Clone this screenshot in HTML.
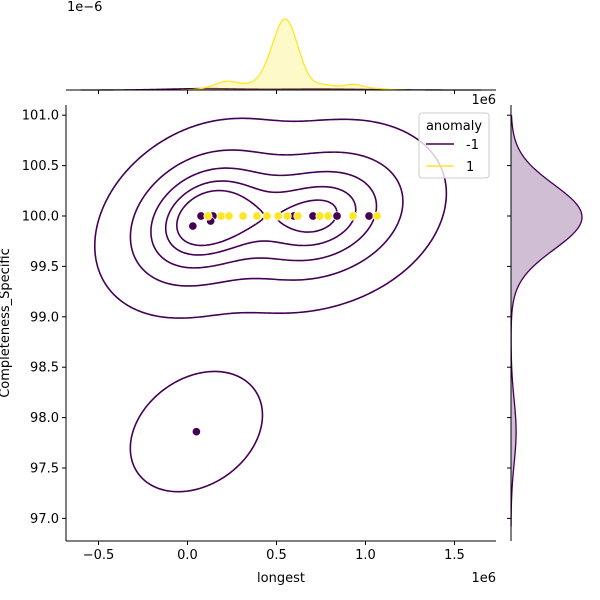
<!DOCTYPE html>
<html><head><meta charset="utf-8"><style>
body{margin:0;background:#fff}
svg{display:block;font-family:"DejaVu Sans","Liberation Sans",sans-serif}
</style></head><body>
<svg id="chart" width="600" height="600" viewBox="0 0 600 600">
<g id="contours"></g>
<g id="points"></g>
<g id="topm"></g>
<g id="rightm"></g>
<g id="axes"></g>
<g>
<rect x="419" y="113" width="70" height="65" rx="3" fill="#fff" fill-opacity="0.8" stroke="#ccc"/>
<text x="454" y="130" font-size="13" text-anchor="middle">anomaly</text>
<line x1="426" y1="144" x2="454" y2="144" stroke="#440154" stroke-width="1.5"/>
<text x="466" y="149" font-size="13">-1</text>
<line x1="426" y1="166" x2="454" y2="166" stroke="#fde725" stroke-width="1.5"/>
<text x="466" y="171" font-size="13">1</text>
</g>
</svg>
<script>
// Data (x in 1e6 units)
const purpleX=[0.076,0.076,0.076,0.143,0.143,0.03,0.13,0.598,0.598,0.705,0.705,0.84,0.84,1.02,0.05];
const purpleY=[100,100,100,100,100,99.9,99.95,100,100,100,100,100,100,100,97.86];
const yellowX=[0.115,0.19,0.233,0.312,0.39,0.447,0.51,0.56,0.62,0.744,0.79,0.93,1.065];
const yellowCount=[2,4,8,4,4,12,40,60,24,4,4,8,2];
const xTicks=[-0.5,0,0.5,1.0,1.5];
const yTicks=[97.0,97.5,98.0,98.5,99.0,99.5,100.0,100.5,101.0];
const contourLevels=[0.05,0.24,0.43,0.62,0.81];

const NS="http://www.w3.org/2000/svg";
const X0=66,X1=496,Y0=105,Y1=541;
const sx=v=>187.5+v*178;
const sy=v=>216-(v-100)*100.8;
function el(t,a,p){const e=document.createElementNS(NS,t);for(const k in a)e.setAttribute(k,a[k]);p.appendChild(e);return e;}
const mean=a=>a.reduce((s,v)=>s+v,0)/a.length;

// 2D KDE for purple
const n=purpleX.length,mx=mean(purpleX),my=mean(purpleY);
let cxx=0,cyy=0,cxy=0;
for(let i=0;i<n;i++){const dx=purpleX[i]-mx,dy=purpleY[i]-my;cxx+=dx*dx;cyy+=dy*dy;cxy+=dx*dy;}
cxx/=n-1;cyy/=n-1;cxy/=n-1;
const f2=Math.pow(n,-2/6)*1.15;
const a=cxx*f2,d=cyy*f2*1.1,b=cxy*f2,det=a*d-b*b;
const ia=d/det,id=a/det,ib=-b/det;
function dens(x,y){let s=0;for(let i=0;i<n;i++){const dx=x-purpleX[i],dy=y-purpleY[i];s+=Math.exp(-0.5*(ia*dx*dx+2*ib*dx*dy+id*dy*dy));}return s;}
const G=200,bx=Math.sqrt(a)*3,by=Math.sqrt(d)*3;
const gx0=Math.min(...purpleX)-bx,gx1=Math.max(...purpleX)+bx,gy0=Math.min(...purpleY)-by,gy1=Math.max(...purpleY)+by;
const grid=[],vals=[];
for(let j=0;j<G;j++){grid[j]=[];for(let i=0;i<G;i++){const v=dens(gx0+(gx1-gx0)*i/(G-1),gy0+(gy1-gy0)*j/(G-1));grid[j][i]=v;vals.push(v);}}
const sorted=vals.slice().sort((p,q)=>q-p);const tot=sorted.reduce((s,v)=>s+v,0);
const cum=[];let c=0;for(const v of sorted){c+=v;cum.push(c/tot);}
function lvl(q){let k=cum.findIndex(v=>v>=1-q);if(k<0)k=sorted.length-1;return sorted[k];}
const cg=document.getElementById('contours');
const gX=i=>sx(gx0+(gx1-gx0)*i/(G-1)),gY=j=>sy(gy0+(gy1-gy0)*j/(G-1));
contourLevels.forEach((q,li)=>{
  const L=lvl(q);let dstr="";
  for(let j=0;j<G-1;j++)for(let i=0;i<G-1;i++){
    const v=[grid[j][i],grid[j][i+1],grid[j+1][i+1],grid[j+1][i]];
    const pts=[];
    const e=[[0,1,i,j,i+1,j],[1,2,i+1,j,i+1,j+1],[2,3,i+1,j+1,i,j+1],[3,0,i,j+1,i,j]];
    for(const [p,r,x1,y1,x2,y2] of e){
      if((v[p]>=L)!==(v[r]>=L)){const t=(L-v[p])/(v[r]-v[p]);pts.push([gX(x1+(x2-x1)*t),gY(y1+(y2-y1)*t)]);}
    }
    for(let k=0;k+1<pts.length;k+=2)dstr+=`M${pts[k][0].toFixed(2)},${pts[k][1].toFixed(2)}L${pts[k+1][0].toFixed(2)},${pts[k+1][1].toFixed(2)}`;
  }
  const p=el('path',{d:dstr,fill:'none',stroke:'#440154','stroke-width':1.6,'stroke-linecap':'round'},cg);
  
  
});

// points
const pg=document.getElementById('points');
purpleX.forEach((x,i)=>{const e=el('circle',{cx:sx(x),cy:sy(purpleY[i]),r:4.2,fill:'#440154',stroke:'#fff','stroke-width':0.7},pg);

});
yellowX.forEach((x,i)=>{const e=el('circle',{cx:sx(x),cy:sy(100),r:4.2,fill:'#fde725',stroke:'#fff','stroke-width':0.7},pg);

});

// 1D kde helpers
function kde1(xs,ws){const N=ws.reduce((s,v)=>s+v,0);const m=xs.reduce((s,v,i)=>s+v*ws[i],0)/N;
 const vr=xs.reduce((s,v,i)=>s+ws[i]*(v-m)*(v-m),0)/(N-1);const bw=Math.sqrt(vr)*Math.pow(N,-0.2);
 return {f:x=>xs.reduce((s,v,i)=>s+ws[i]*Math.exp(-0.5*((x-v)/bw)**2),0)/(bw*Math.sqrt(2*Math.PI)),bw,min:Math.min(...xs),max:Math.max(...xs)};}
const ones=purpleX.map(()=>1);
const kY=kde1(yellowX,yellowCount),kPx=kde1(purpleX,ones);
let tmax=0;const ySamp=[],pSamp=[];
for(let k=0;k<=300;k++){const x1=kY.min-3*kY.bw+(kY.max-kY.min+6*kY.bw)*k/300;const v=kY.f(x1);ySamp.push([x1,v]);tmax=Math.max(tmax,v);}
for(let k=0;k<=300;k++){const x1=kPx.min-3*kPx.bw+(kPx.max-kPx.min+6*kPx.bw)*k/300;pSamp.push([x1,kPx.f(x1)]);}
const ty=v=>90-v/tmax*71;
const tg=document.getElementById('topm');
function area(s,fx,fy,base,horiz,color,g,name){
 let dd=s.map((p,i)=>(i?'L':'M')+(horiz?fx(p[0]).toFixed(2)+','+fy(p[1]).toFixed(2):fy(p[1]).toFixed(2)+','+fx(p[0]).toFixed(2))).join('');
 const fill=horiz?`${dd}L${fx(s[s.length-1][0])},${base}L${fx(s[0][0])},${base}Z`:`${dd}L${base},${fx(s[s.length-1][0])}L${base},${fx(s[0][0])}Z`;
 const f=el('path',{d:fill,fill:color,'fill-opacity':0.25,stroke:'none'},g);
 
 
 const l=el('path',{d:dd,fill:'none',stroke:color,'stroke-width':1.3},g);
 
 
}
area(pSamp,sx,ty,90,true,'#440154',tg,'top-kde-anomaly');
area(ySamp,sx,ty,90,true,'#fde725',tg,'top-kde-normal');
const kPy=kde1(purpleY,ones);let rmax=0;const rS=[];
for(let k=0;k<=300;k++){const y1=96.92+4.08*k/300;const v=kPy.f(y1);rS.push([y1,v]);rmax=Math.max(rmax,v);}
const rx=v=>511+v/rmax*71;
area(rS,sy,rx,511,false,'#440154',document.getElementById('rightm'),'right-kde-anomaly');

// axes
const ag=document.getElementById('axes');
function line(x1,y1,x2,y2,name){const e=el('line',{x1,y1,x2,y2,stroke:'#000','stroke-width':1},ag);}
function text(x,y,s,anchor,name,size){const e=el('text',{x,y,'font-size':size||13,'text-anchor':anchor},ag);e.textContent=s;return e;}
line(X0,Y0,X0,Y1,'y-axis-line');line(X0,Y1,X1,Y1,'x-axis-line');
line(X0,90,X1,90,'top-marginal-baseline');line(511,Y0,511,Y1,'right-marginal-baseline');
xTicks.forEach(t=>{line(sx(t),Y1,sx(t),Y1+4,'x-tick');line(sx(t),90,sx(t),94,'top-tick');
 text(sx(t),Y1+18,t===0?'0.0':(t<0?'\u2212':'')+Math.abs(t).toFixed(1),'middle','x-tick-label');});
yTicks.forEach(t=>{line(X0-4,sy(t),X0,sy(t),'y-tick');line(507,sy(t),511,sy(t),'right-tick');
 text(X0-7,sy(t)+4.5,t.toFixed(1),'end','y-tick-label');});
text(496,104,'1e6','end','x-offset-top');
text(496,582,'1e6','end','x-offset-label');
text(67,11,'1e\u22126','start','top-offset-label');
text(281,582,'longest','middle','x-axis-title');
const yt=text(0,0,'Completeness_Specific','middle','y-axis-title');yt.setAttribute('transform','translate(9,323) rotate(-90)');
</script>
</body></html>
